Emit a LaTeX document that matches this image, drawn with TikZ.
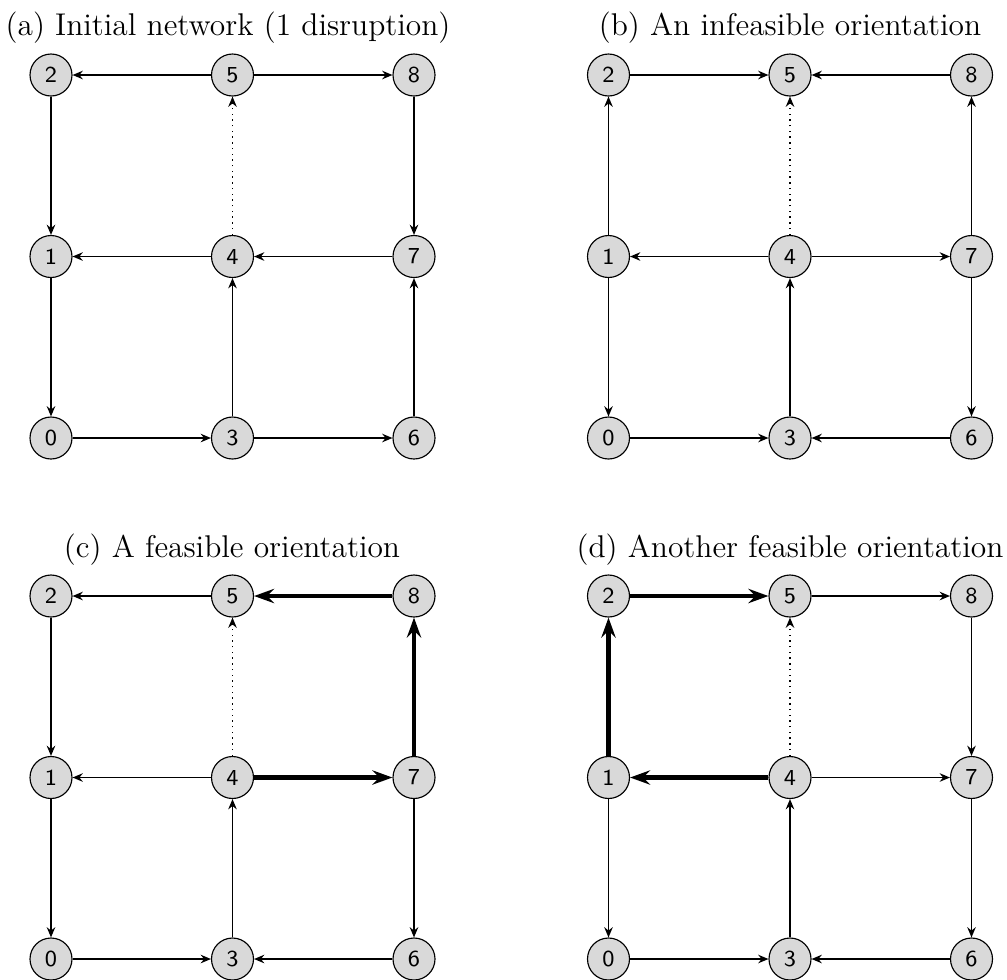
\documentclass[tikz,border=0pt]{standalone}
\usetikzlibrary{arrows.meta}
\tikzset{
  vert/.style={circle,draw,line width=0.4pt,fill=black!15,minimum size=14.7pt,inner sep=0pt,
    font=\sffamily\fontsize{8}{9}\selectfont},
  arc/.style={line width=0.5pt,-{Stealth[length=3.6pt,width=3pt,inset=1.2pt]}},
  hot/.style={line width=1.6pt,-{Stealth[length=7pt,width=5pt,inset=2.4pt]}},
  broken/.style={arc,dash pattern=on 0.5pt off 1.5pt},
  caption/.style={anchor=base,inner sep=0pt,font=\fontsize{11}{13}\selectfont}
}
\newcommand\gridnodes[3]{%
  \foreach \i/\c/\r in {0/0/2,1/0/1,2/0/0,3/1/2,4/1/1,5/1/0,6/2/2,7/2/1,8/2/0}
    \node[vert] (#1\i) at ({#2+181.5*\c},{#3+181.5*\r}) {\i};
}
\begin{document}
\begin{tikzpicture}[x=0.35pt,y=-0.35pt]
\useasboundingbox (0,0) rectangle (1007,979);
% captions
\node[caption] (ta) at (228,35.5) {(a) Initial network (1 disruption)};
\node[caption] (tb) at (790,35.5) {(b) An infeasible orientation};
\node[caption] (tc) at (232,557) {(c) A feasible orientation};
\node[caption] (td) at (790,557) {(d) Another feasible orientation};
% nodes
\gridnodes{a}{51}{75}
\gridnodes{b}{608.5}{75}
\gridnodes{c}{51}{596}
\gridnodes{d}{608.5}{596}
% (a)
\draw[arc] (a5) -- (a2);
\draw[arc] (a5) -- (a8);
\draw[arc] (a2) -- (a1);
\draw[arc] (a1) -- (a0);
\draw[broken] (a4) -- (a5);
\draw[arc] (a4) -- (a1);
\draw[arc] (a7) -- (a4);
\draw[arc] (a8) -- (a7);
\draw[arc] (a3) -- (a4);
\draw[arc] (a0) -- (a3);
\draw[arc] (a3) -- (a6);
\draw[arc] (a6) -- (a7);
% (b)
\draw[arc] (b2) -- (b5);
\draw[arc] (b8) -- (b5);
\draw[arc] (b1) -- (b2);
\draw[arc] (b1) -- (b0);
\draw[broken] (b4) -- (b5);
\draw[arc] (b4) -- (b1);
\draw[arc] (b4) -- (b7);
\draw[arc] (b7) -- (b8);
\draw[arc] (b7) -- (b6);
\draw[arc] (b3) -- (b4);
\draw[arc] (b0) -- (b3);
\draw[arc] (b6) -- (b3);
% (c)
\draw[arc] (c5) -- (c2);
\draw[hot] (c8) -- (c5);
\draw[arc] (c2) -- (c1);
\draw[arc] (c1) -- (c0);
\draw[broken] (c4) -- (c5);
\draw[arc] (c4) -- (c1);
\draw[hot] (c4) -- (c7);
\draw[hot] (c7) -- (c8);
\draw[arc] (c7) -- (c6);
\draw[arc] (c3) -- (c4);
\draw[arc] (c0) -- (c3);
\draw[arc] (c6) -- (c3);
% (d)
\draw[hot] (d2) -- (d5);
\draw[arc] (d5) -- (d8);
\draw[hot] (d1) -- (d2);
\draw[arc] (d1) -- (d0);
\draw[broken] (d4) -- (d5);
\draw[hot] (d4) -- (d1);
\draw[arc] (d4) -- (d7);
\draw[arc] (d8) -- (d7);
\draw[arc] (d7) -- (d6);
\draw[arc] (d3) -- (d4);
\draw[arc] (d0) -- (d3);
\draw[arc] (d6) -- (d3);
\end{tikzpicture}
\end{document}
